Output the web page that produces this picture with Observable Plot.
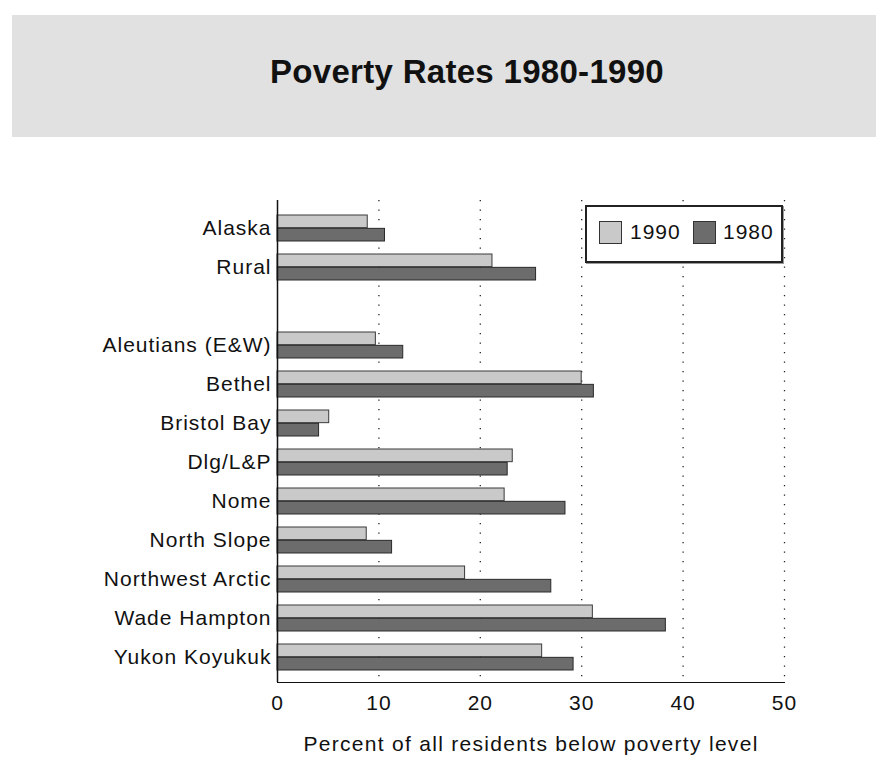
<!DOCTYPE html>
<html>
<head>
<meta charset="utf-8">
<script src="https://cdn.jsdelivr.net/npm/d3@7"></script>
<script src="https://cdn.jsdelivr.net/npm/@observablehq/plot@0.6"></script>
<style>
  html, body { margin: 0; padding: 0; background: #fff; width: 876px; height: 759px; overflow: hidden; }
  body { position: relative; font-family: "Liberation Sans", Arial, Helvetica, sans-serif; color: #111; }
  #banner { position: absolute; left: 12px; top: 15px; right: 0; height: 122px; background: #e1e1e1; }
  #title { position: absolute; left: 270px; top: 53px; font-size: 33px; font-weight: bold; letter-spacing: 0.3px; line-height: 38px; color: #111; white-space: nowrap; }
  #chart { position: absolute; left: 0; top: 150px; }
  #legend { position: absolute; left: 585px; top: 205px; width: 194px; height: 54px; border: 2px solid #222; background: #fff; box-shadow: 1px 1px 0 #999; }
  .sw { position: absolute; top: 14px; width: 21px; height: 21px; border: 1px solid #333; }
  .lt { position: absolute; top: 12px; font-size: 21px; letter-spacing: 1px; line-height: 26px; }
</style>
</head>
<body>
<div id="banner"></div>
<div id="title">Poverty Rates 1980-1990</div>
<div id="chart"></div>
<div id="legend"></div>
<script>
const categories = ["Alaska", "Rural", " ", "Aleutians (E&W)", "Bethel", "Bristol Bay", "Dlg/L&P", "Nome", "North Slope", "Northwest Arctic", "Wade Hampton", "Yukon Koyukuk"];
const regions = ["Alaska", "Rural", "Aleutians (E&W)", "Bethel", "Bristol Bay", "Dlg/L&P", "Nome", "North Slope", "Northwest Arctic", "Wade Hampton", "Yukon Koyukuk"];
const rate1990 = [8.9, 21.2, 9.7, 30.0, 5.1, 23.2, 22.4, 8.8, 18.5, 31.1, 26.1];
const rate1980 = [10.6, 25.5, 12.4, 31.2, 4.1, 22.7, 28.4, 11.3, 27.0, 38.3, 29.2];
const years = ["1990", "1980"];
const xTicks = [0, 10, 20, 30, 40, 50];
const xLabel = "Percent of all residents below poverty level";

const colors = {"1990": "#c9c9c9", "1980": "#6c6c6c"};

const data = [];
regions.forEach((r, i) => {
  data.push({region: r, year: "1990", value: rate1990[i]});
  data.push({region: r, year: "1980", value: rate1980[i]});
});

const W = 876, H = 609, mt = 54, mb = 77, ml = 277, mr = 92;
const pInner = 0.33, pOuter = 0.165;
const step = (H - mt - mb) / (categories.length - pInner + 2 * pOuter);
const half = step * (1 - pInner) / 2;

const chart = Plot.plot({
  width: W,
  height: H,
  marginTop: mt,
  marginBottom: mb,
  marginLeft: ml,
  marginRight: mr,
  style: {fontFamily: "Liberation Sans, Arial, sans-serif", fontSize: "21px", color: "#111", background: "transparent", letterSpacing: "1px"},
  x: {domain: [0, 50], ticks: xTicks, tickSize: 0, tickPadding: 13, line: true, label: xLabel, labelAnchor: "center", labelOffset: 68, labelArrow: "none"},
  y: {domain: categories, paddingInner: pInner, paddingOuter: pOuter, tickSize: 0, tickPadding: 6, line: true, label: null},
  marks: [
    Plot.ruleX(xTicks.filter(d => d > 0), {stroke: "#222", strokeWidth: 1.3, strokeDasharray: "1.3,8.2", insetTop: -4}),
    Plot.barX(data.filter(d => d.year === "1990"), {x: "value", y: "region", fill: colors["1990"], stroke: "#3a3a3a", strokeWidth: 1, insetBottom: half}),
    Plot.barX(data.filter(d => d.year === "1980"), {x: "value", y: "region", fill: colors["1980"], stroke: "#2a2a2a", strokeWidth: 1, insetTop: half}),
    Plot.ruleX([0], {stroke: "#111", strokeWidth: 1.5, insetTop: -4})
  ]
});
chart.querySelectorAll("text").forEach(t => {
  if (t.textContent === xLabel) t.setAttribute("letter-spacing", "1.3px");
});
document.getElementById("chart").appendChild(chart);

const legend = document.getElementById("legend");
const pos = {"1990": [12, 43], "1980": [106, 136]};
years.forEach(y => {
  const s = document.createElement("div");
  s.className = "sw";
  s.style.left = pos[y][0] + "px";
  s.style.background = colors[y];
  legend.appendChild(s);
  const t = document.createElement("div");
  t.className = "lt";
  t.style.left = pos[y][1] + "px";
  t.textContent = y;
  legend.appendChild(t);
});
</script>
</body>
</html>
